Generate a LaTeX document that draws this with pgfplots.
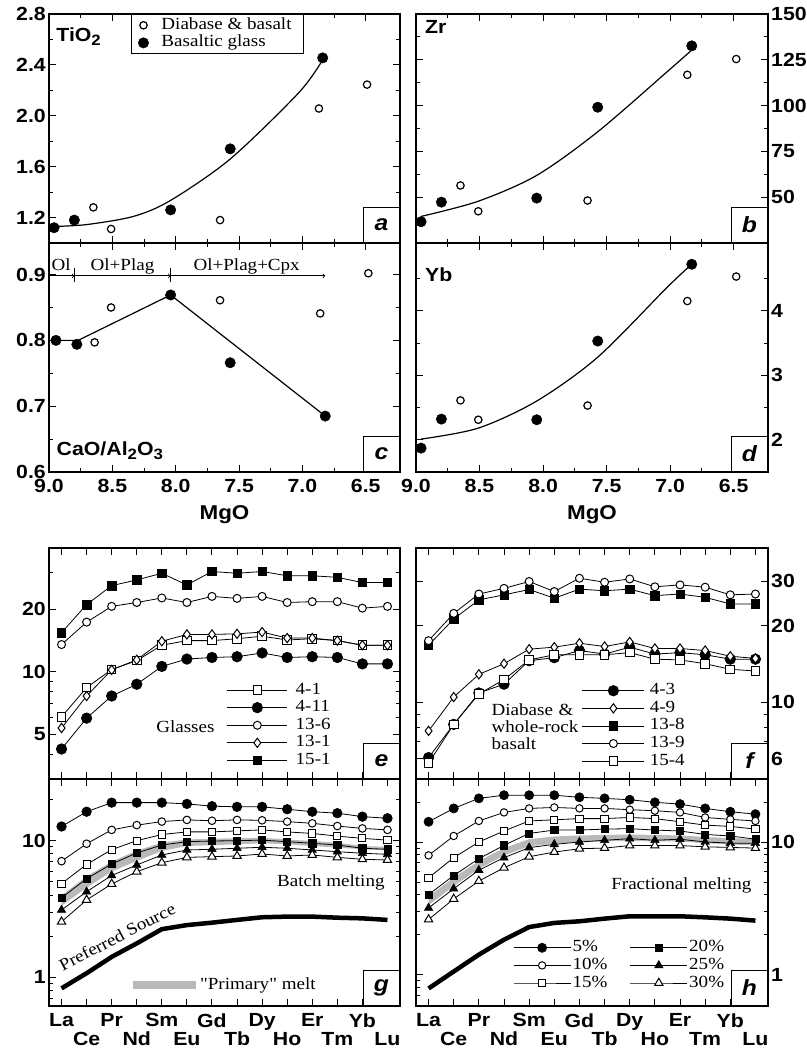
\documentclass[border=0pt]{standalone}
\usepackage{fontspec}
\setmainfont{Liberation Serif}[FakeStretch=1.12]
\setsansfont{Liberation Sans}[FakeStretch=1.12]
\newfontfamily\plainserif{Liberation Serif}[FakeStretch=1.12]
\usepackage{pgfplots}
\usepackage{pgfplotstable}
\pgfplotsset{compat=1.18}

\newcommand\tlf{\sffamily\bfseries\fontsize{19}{21}\selectfont}
\newcommand\ttl{\sffamily\bfseries\fontsize{19}{21}\selectfont}
\newcommand\srf{\rmfamily\fontsize{17}{18}\selectfont}
\newcommand\plf{\sffamily\bfseries\itshape\fontsize{22}{22}\selectfont}
\newcommand\sub[1]{\raisebox{-0.35ex}{\fontsize{15}{15}\selectfont #1}}

\pgfplotstableread{
x a41 a411 a136 a131 a151
0 6.07 4.25 13.5 5.36 15.4
1 8.38 5.98 17.3 7.64 21.0
2 10.25 7.64 20.6 10.2 25.9
3 11.3 8.70 21.5 11.4 27.6
4 13.4 10.6 22.6 14.0 29.7
5 14.1 11.5 21.5 15.1 26.1
6 14.1 11.7 23.0 15.1 30.3
7 14.4 11.8 22.5 15.2 29.7
8 14.8 12.3 23.0 15.5 30.3
9 14.2 11.7 21.5 14.5 28.9
10 14.4 11.8 21.7 14.5 28.9
11 14.1 11.7 21.7 14.1 28.4
12 13.4 10.9 20.2 13.4 26.8
13 13.4 10.9 20.6 13.4 26.8
}\tblE

\pgfplotstableread{
x b43 b49 b138 b139 b154
0 6.07 7.73 16.8 17.5 5.77
1 8.2 10.5 21.3 22.4 8.2
2 10.9 12.9 25.3 26.7 10.8
3 11.8 14.2 26.5 28.1 12.3
4 14.6 16.2 27.8 29.9 14.7
5 15.0 16.5 25.7 27.3 15.4
6 16.0 17.1 27.9 30.8 15.4
7 15.5 16.6 27.5 29.7 15.4
8 16.5 17.3 27.9 30.6 15.7
9 15.5 16.3 26.3 28.5 14.8
10 15.7 16.3 26.7 29.0 14.7
11 15.4 16.0 25.9 28.4 14.2
12 14.8 15.2 24.4 26.5 13.5
13 14.8 14.9 24.4 26.7 13.3
}\tblF

\pgfplotstableread{
x p5 p10 p15 p20 p25 p30 src
0 12.7 7.08 4.85 3.82 3.11 2.55 0.83
1 16.3 9.5 6.7 5.27 4.23 3.68 1.07
2 19.0 12.0 8.6 6.75 5.56 4.82 1.41
3 19.0 13.0 10.0 8.13 6.64 5.93 1.77
4 19.0 13.8 11.1 9.3 7.86 6.9 2.25
5 18.6 14.2 11.6 9.83 8.55 7.55 2.41
6 17.9 14.0 11.6 9.95 8.65 7.64 2.51
7 17.7 14.2 11.8 10.0 8.80 7.73 2.63
8 17.7 14.1 12.0 10.1 8.95 7.99 2.75
9 17.0 13.8 11.6 9.83 8.80 7.73 2.78
10 16.3 13.4 11.3 9.57 8.55 7.86 2.78
11 15.9 12.8 10.8 9.3 8.31 7.55 2.73
12 15.0 12.3 10.4 8.8 8.09 7.31 2.70
13 14.6 12.0 10.1 8.65 7.95 7.22 2.63
}\tblG

% "primary" melt band, batch: upper edge La..Lu then lower edge Lu..La
\pgfplotstableread{
x y
0 3.97
1 5.48
2 7.02
3 8.46
4 9.67
5 10.2
6 10.35
7 10.4
8 10.5
9 10.2
10 9.95
11 9.67
12 9.15
13 9.0
13 8.5
12 8.66
11 8.89
10 9.15
9 9.42
8 9.58
7 9.42
6 9.26
5 9.15
4 8.41
3 7.10
2 5.95
1 4.53
0 3.33
}\bandG

\pgfplotstableread{
x p5 p10 p15 p20 p25 p30 src
0 14.2 7.93 5.38 4.02 3.19 2.61 0.79
1 17.9 11.1 7.62 5.60 4.45 3.73 1.06
2 21.3 14.4 10.0 7.49 6.14 5.08 1.42
3 22.5 16.7 12.1 9.44 7.62 6.40 1.84
4 22.5 17.9 14.4 11.6 9.07 7.75 2.29
5 22.5 18.2 14.7 12.3 9.6 8.4 2.46
6 21.7 17.9 15.0 12.3 10.0 8.9 2.53
7 21.3 17.9 15.0 12.5 10.3 9.0 2.65
8 20.8 17.5 15.3 12.6 10.6 9.4 2.76
9 19.9 17.2 15.0 12.3 10.3 9.4 2.76
10 19.3 16.7 14.2 12.1 10.5 9.4 2.76
11 17.9 15.3 13.4 11.4 10.0 9.2 2.71
12 16.9 14.8 13.1 11.1 9.8 9.1 2.65
13 16.2 14.4 12.5 10.5 9.8 9.0 2.56
}\tblH

\pgfplotstableread{
x y
0 3.9
1 5.4
2 7.2
3 9.0
4 10.5
5 11.0
6 11.2
7 11.3
8 11.4
9 11.3
10 11.2
11 10.9
12 10.7
13 10.5
13 9.4
12 9.6
11 9.8
10 10.1
9 10.1
8 10.2
7 10.1
6 10.0
5 9.7
4 9.3
3 7.9
2 6.3
1 4.65
0 3.35
}\bandH

\tikzset{lab/.style={draw, line width=1pt, fill=white, anchor=south east, minimum width=36pt, minimum height=35pt, inner sep=0pt, font=\plf}}

\pgfplotsset{
  base/.style={scale only axis, anchor=south west, tick align=inside, clip=false,
    major tick length=7pt, minor tick length=4pt,
    axis line style={line width=1.1pt},
    major tick style={line width=1pt, black},
    minor tick style={line width=0.9pt, black},
    tick label style={font=\tlf},
    yticklabel style={inner xsep=3pt},
    xlabel style={font=\sffamily\bfseries\fontsize{20}{22}\selectfont, yshift=-6pt},
  },
  mg/.style={base, height=229pt, x dir=reverse, xmin=6.23, xmax=9.0,
    xtick={9,8.5,8,7.5,7,6.5}, minor xtick={8.75,8.25,7.75,7.25,6.75},
    xticklabel style={yshift=-4pt}},
  reelab/.style={xtick={0,2,...,12}, xticklabels={La,Pr,Sm,Gd,Dy,Er,Yb},
    xticklabel style={yshift=-4pt},
    extra x ticks={1,3,...,13}, extra x tick labels={Ce,Nd,Eu,Tb,Ho,Tm,Lu},
    extra x tick style={xticklabel style={yshift=-18.5pt}}},
  fc/.style={only marks, mark=*, mark size=5.2pt, mark options={fill=black, draw=black, line width=0.5pt}},
  oc/.style={only marks, mark=*, mark size=3.7pt, mark options={fill=white, draw=black, line width=1.2pt}},
  mfc/.style={black, line width=0.8pt, mark=*, mark size=#1, mark options={solid, fill=black, line width=0.6pt}},
  moc/.style={black, line width=0.8pt, mark=*, mark size=#1, mark options={solid, fill=white, line width=1pt}},
  mos/.style={black, line width=0.8pt, mark=square*, mark size=#1, mark options={solid, fill=white, line width=1pt}},
  mfs/.style={black, line width=0.8pt, mark=square*, mark size=#1, mark options={solid, fill=black, line width=0.6pt}},
  mdi/.style={black, line width=0.8pt, mark=diamond*, mark size=#1, mark options={solid, fill=white, line width=1pt}},
  mft/.style={black, line width=0.8pt, mark=triangle*, mark size=#1, mark options={solid, fill=black, line width=0.6pt}},
  mot/.style={black, line width=0.8pt, mark=triangle*, mark size=#1, mark options={solid, fill=white, line width=1pt}},
}

\begin{document}
\begin{tikzpicture}
\useasboundingbox (0pt,0pt) rectangle (806pt,1051pt);

%% (a) TiO2
\begin{axis}[mg, at={(49pt,808pt)}, width=351pt, ymin=1.0, ymax=2.8,
  ytick={1.2,1.6,2.0,2.4,2.8}, yticklabels={1.2,1.6,2.0,2.4,2.8}, minor ytick={1.4,1.8,2.2,2.6},
  xticklabels={},
  legend image code/.code={\path[draw=none, fill=none] (0pt,0pt) rectangle (24pt,0.1pt); \draw[#1] plot coordinates {(9pt,0pt)};},
  legend style={at={(0.2336,1)}, anchor=north west, draw, line width=1pt,
    legend cell align=left, inner xsep=3pt, inner ysep=2pt,
    nodes={font=\srf, inner xsep=3pt, inner ysep=1.3pt, text height=11.5pt, text depth=3.5pt}}]
\addplot[forget plot, smooth, line width=1.2pt] coordinates {(8.96,1.13) (8.7,1.145) (8.33,1.21) (8.04,1.335) (7.57,1.66) (7.03,2.18) (6.84,2.44)};
\addplot[oc] coordinates {(8.65,1.28) (8.51,1.11) (7.65,1.18) (6.87,2.057) (6.49,2.245)};
\addlegendentry{Diabase \& basalt\hspace*{6pt}}
\addplot[fc] coordinates {(8.96,1.12) (8.80,1.18) (8.04,1.26) (7.57,1.74) (6.84,2.455)};
\addlegendentry{Basaltic glass}
\node[anchor=base west, font=\ttl] at (rel axis cs:0.011,0.879) {TiO\sub{2}};
\node[lab] at (rel axis cs:1,0) {a};
\end{axis}

%% (c) CaO/Al2O3
\begin{axis}[mg, at={(49pt,579pt)}, width=351pt, ymin=0.6, ymax=0.948,
  ytick={0.6,0.7,0.8,0.9}, yticklabels={0.6,0.7,0.8,0.9}, minor ytick={0.65,0.75,0.85},
  xticklabels={9.0,8.5,8.0,7.5,7.0,6.5}, xlabel={MgO}]
\addplot[line width=1.2pt] coordinates {(8.945,0.80) (8.77,0.80) (8.04,0.869) (6.82,0.685)};
\addplot[oc] coordinates {(8.64,0.797) (8.51,0.85) (7.65,0.861) (6.86,0.841) (6.48,0.902)};
\addplot[fc] coordinates {(8.945,0.80) (8.78,0.794) (8.04,0.869) (7.57,0.766) (6.82,0.685)};
\draw[->, line width=0.8pt] (axis cs:9.0,0.898) -- (axis cs:8.80,0.898);
\draw[->, line width=0.8pt] (axis cs:8.80,0.898) -- (axis cs:8.04,0.898);
\draw[->, line width=0.8pt] (axis cs:8.04,0.898) -- (axis cs:6.82,0.898);
\draw[line width=0.8pt] (axis cs:8.80,0.888) -- (axis cs:8.80,0.91);
\draw[line width=0.8pt] (axis cs:8.04,0.888) -- (axis cs:8.04,0.91);
\node[anchor=base, font=\srf] at (axis cs:8.905,0.9065) {Ol};
\node[anchor=base, font=\srf] at (axis cs:8.42,0.9065) {Ol+Plag};
\node[anchor=base, font=\srf] at (axis cs:7.44,0.9065) {Ol+Plag+Cpx};
\node[anchor=base west, font=\ttl] at (rel axis cs:0.012,0.07) {CaO/Al\sub{2}O\sub{3}};
\node[lab] at (rel axis cs:1,0) {c};
\end{axis}

%% (b) Zr
\begin{axis}[mg, at={(416pt,808pt)}, width=352pt, ymin=25, ymax=150,
  ytick={50,75,100,125,150}, yticklabels={50,75,100,125,150}, minor ytick={37.5,62.5,87.5,112.5,137.5},
  yticklabel pos=right, xticklabels={}]
\addplot[smooth, line width=1.2pt] coordinates {(8.96,39.5) (8.51,47.8) (8.05,61.9) (7.57,85.7) (7.02,118.7) (6.84,129.7)};
\addplot[oc] coordinates {(8.65,56.4) (8.51,42.3) (7.65,48.2) (6.865,116.8) (6.48,125.4)};
\addplot[fc] coordinates {(8.96,36.6) (8.80,47.3) (8.05,49.5) (7.57,99.1) (6.83,132.6)};
\node[anchor=base west, font=\ttl] at (rel axis cs:0.016,0.916) {Zr};
\node[lab] at (rel axis cs:1,0) {b};
\end{axis}

%% (d) Yb
\begin{axis}[mg, at={(416pt,579pt)}, width=352pt, ymin=1.5, ymax=5.05,
  ytick={2,3,4}, yticklabels={2,3,4}, minor ytick={2.5,3.5,4.5},
  yticklabel pos=right, xticklabels={9.0,8.5,8.0,7.5,7.0,6.5}, xlabel={MgO}]
\addplot[smooth, line width=1.2pt] coordinates {(8.96,2.01) (8.51,2.18) (8.05,2.6) (7.57,3.28) (7.02,4.37) (6.83,4.72)};
\addplot[oc] coordinates {(8.65,2.61) (8.51,2.31) (7.65,2.53) (6.865,4.15) (6.48,4.53)};
\addplot[fc] coordinates {(8.96,1.87) (8.80,2.32) (8.05,2.31) (7.57,3.53) (6.83,4.72)};
\node[anchor=base west, font=\ttl] at (rel axis cs:0.016,0.832) {Yb};
\node[lab] at (rel axis cs:1,0) {d};
\end{axis}

%% (e) glasses
\begin{axis}[base, ymode=log, xmin=-0.5, xmax=13.5, at={(49pt,272pt)}, width=351pt, height=231pt, ymin=3.05, ymax=39.3,
  ytick={5,10,20}, yticklabels={5,10,20}, minor ytick={3,4,6,7,8,9,30},
  xtick={0,...,13}, xticklabels={},
  legend image code/.code={\draw[mark repeat=2,mark phase=2,#1] plot coordinates {(0pt,0pt) (30pt,0pt) (60pt,0pt)};},
  legend style={at={(0.5063,0.424)}, anchor=north west, draw=none, fill=none,
     legend cell align=left, inner sep=0pt, row sep=0pt,
     nodes={font=\srf, inner xsep=8pt, inner ysep=1.3pt, text height=11.5pt, text depth=3.5pt}}]
\addplot[mos=4.3pt] table[x=x,y=a41]{\tblE}; \addlegendentry{4-1}
\addplot[mfc=5.3pt] table[x=x,y=a411]{\tblE}; \addlegendentry{4-11}
\addplot[moc=4pt] table[x=x,y=a136]{\tblE}; \addlegendentry{13-6}
\addplot[mdi=4.6pt] table[x=x,y=a131]{\tblE}; \addlegendentry{13-1}
\addplot[mfs=4.2pt] table[x=x,y=a151]{\tblE}; \addlegendentry{15-1}
\node[anchor=east, font=\srf] at (rel axis cs:0.4815,0.2264) {Glasses};
\node[lab] at (rel axis cs:1,0) {e};
\end{axis}

%% (f) diabase
\begin{axis}[base, ymode=log, xmin=-0.5, xmax=13.5, at={(416pt,272pt)}, width=352pt, height=231pt, ymin=5, ymax=40.5,
  ytick={6,10,20,30}, yticklabels={6,10,20,30}, minor ytick={7,8,9}, yticklabel pos=right,
  xtick={0,...,13}, xticklabels={},
  legend image code/.code={\draw[mark repeat=2,mark phase=2,#1] plot coordinates {(0pt,0pt) (31pt,0pt) (62pt,0pt)};},
  legend style={at={(0.471,0.421)}, anchor=north west, draw=none, fill=none,
     legend cell align=left, inner sep=0pt, row sep=0pt,
     nodes={font=\srf, inner xsep=5pt, inner ysep=1.3pt, text height=11.5pt, text depth=3.5pt}}]
\addplot[mfc=5.3pt] table[x=x,y=b43]{\tblF}; \addlegendentry{4-3}
\addplot[mdi=4.6pt] table[x=x,y=b49]{\tblF}; \addlegendentry{4-9}
\addplot[mfs=4.2pt] table[x=x,y=b138]{\tblF}; \addlegendentry{13-8}
\addplot[moc=4pt] table[x=x,y=b139]{\tblF}; \addlegendentry{13-9}
\addplot[mos=4.3pt] table[x=x,y=b154]{\tblF}; \addlegendentry{15-4}
\node[anchor=west, align=left, font=\srf, text width=110pt] at (rel axis cs:0.205,0.228) {Diabase \&\\[-1pt]whole-rock\\[-1pt]basalt};
\node[lab] at (rel axis cs:1,0) {f};
\end{axis}

%% (g) batch melting
\begin{axis}[base, ymode=log, xmin=-0.5, xmax=13.5, reelab, at={(49pt,45pt)}, width=351pt, height=227pt, ymin=0.616, ymax=28.3,
  ytick={1,10}, yticklabels={1,10}, minor ytick={0.7,0.8,0.9,2,3,4,5,6,7,8,9,20},
  legend style={at={(0.238,0.0956)}, anchor=west, draw=none, fill=none, inner sep=0pt,
    nodes={font=\plainserif\fontsize{17}{18}\selectfont, inner xsep=5pt, inner ysep=1pt}}]
\addplot[forget plot, fill=gray!55, draw=none] table[x=x,y=y]{\bandG};
\addplot[forget plot, mfc=4.8pt] table[x=x,y=p5]{\tblG};
\addplot[forget plot, moc=3.8pt] table[x=x,y=p10]{\tblG};
\addplot[forget plot, mos=3.6pt] table[x=x,y=p15]{\tblG};
\addplot[forget plot, mfs=3.6pt] table[x=x,y=p20]{\tblG};
\addplot[forget plot, mft=4.8pt] table[x=x,y=p25]{\tblG};
\addplot[forget plot, mot=4.8pt] table[x=x,y=p30]{\tblG};
\addplot[forget plot, line width=4.5pt, black] table[x=x,y=src]{\tblG};
\addlegendimage{legend image code/.code={\fill[gray!55] (0pt,-3.5pt) rectangle (62pt,3.5pt);}}
\addlegendentry{"Primary" melt}
\node[anchor=base west, rotate=27.5, font=\srf] at (axis cs:-0.07,1.07) {Preferred Source};
\node[anchor=east, font=\srf] at (rel axis cs:0.966,0.543) {Batch melting};
\node[lab] at (rel axis cs:1,0) {g};
\end{axis}

%% (h) fractional melting
\begin{axis}[base, ymode=log, xmin=-0.5, xmax=13.5, reelab, at={(416pt,45pt)}, width=352pt, height=227pt, ymin=0.583, ymax=29.8,
  ytick={1,10}, yticklabels={1,10}, minor ytick={0.7,0.8,0.9,2,3,4,5,6,7,8,9,20}, yticklabel pos=right,
  legend image code/.code={\draw[mark repeat=2,mark phase=2,#1] plot coordinates {(0pt,0pt) (28.5pt,0pt) (57pt,0pt)};},
  legend columns=3, transpose legend,
  legend style={at={(0.2756,0.296)}, anchor=north west, draw=none, fill=none,
     legend cell align=left, inner sep=0pt, row sep=0pt, column sep=0pt,
     nodes={font=\srf, inner xsep=1.5pt, inner ysep=1.3pt, text height=11.5pt, text depth=3.5pt}}]
\addplot[forget plot, fill=gray!55, draw=none] table[x=x,y=y]{\bandH};
\addplot[forget plot, line width=4.5pt, black] table[x=x,y=src]{\tblH};
\addplot[mfc=4.6pt] table[x=x,y=p5]{\tblH}; \addlegendentry{5\%}
\addplot[moc=3.7pt] table[x=x,y=p10]{\tblH}; \addlegendentry{10\%}
\addplot[mos=3.6pt] table[x=x,y=p15]{\tblH}; \addlegendentry{15\%\hspace*{21pt}}
\addplot[mfs=3.6pt] table[x=x,y=p20]{\tblH}; \addlegendentry{20\%}
\addplot[mft=4.8pt] table[x=x,y=p25]{\tblH}; \addlegendentry{25\%}
\addplot[mot=4.8pt] table[x=x,y=p30]{\tblH}; \addlegendentry{30\%}
\node[anchor=east, font=\srf] at (rel axis cs:0.963,0.533) {Fractional melting};
\node[lab] at (rel axis cs:1,0) {h};
\end{axis}
\end{tikzpicture}
\end{document}
